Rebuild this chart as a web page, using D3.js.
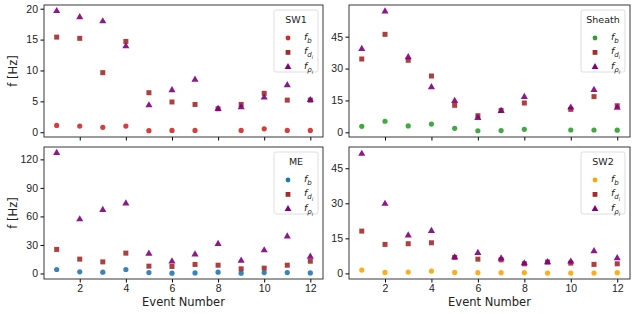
<!DOCTYPE html>
<html>
<head>
<meta charset="utf-8">
<script src="https://cdn.jsdelivr.net/npm/d3@7"></script>
<style>
  body { margin: 0; background: #fff; }
  svg { font-family: "DejaVu Sans", sans-serif; }
</style>
</head>
<body>
<div id="chart"></div>
<script>
// event numbers on the x axis
const events = [1, 2, 3, 4, 5, 6, 7, 8, 9, 10, 11, 12];
const xTicks = [2, 4, 6, 8, 10, 12];

// SW1
const sw1_fb = [1.1, 1.0, 0.8, 1.0, 0.25, 0.3, 0.3, null, 0.3, 0.55, 0.3, 0.3];
const sw1_fd = [15.4, 15.2, 9.65, 14.7, 6.4, 4.9, 4.5, 3.8, 4.5, 6.3, 5.2, 5.2];
const sw1_fp = [19.7, 18.7, 18.05, 14.0, 4.45, 6.9, 8.6, 3.85, 4.15, 5.7, 7.7, 5.3];
// Sheath
const sh_fb = [2.8, 5.2, 3.0, 3.9, 1.9, 0.75, 0.8, 1.4, null, 1.1, 1.1, 1.0];
const sh_fd = [34.5, 46.1, 33.9, 26.5, 12.7, 7.8, 10.3, 13.8, null, 10.8, 16.8, 12.5];
const sh_fp = [39.5, 57.1, 35.6, 21.5, 15.0, 7.05, 10.3, 16.9, null, 11.9, 20.2, 11.8];
// ME
const me_fb = [4.2, 1.7, 1.4, 4.2, 1.0, 0.3, 0.6, 1.4, 0.3, 1.0, 1.0, 0.6];
const me_fd = [25.3, 15.1, 12.2, 21.4, 7.7, 7.4, 9.5, 8.7, 4.9, 5.6, 8.7, 12.9];
const me_fp = [127.4, 57.5, 67.3, 74.3, 21.4, 13.3, 20.6, 31.6, 14.0, 24.9, 39.6, 18.2];
// SW2
const sw2_fb = [1.4, 0.4, 0.55, 1.0, 0.4, 0.3, 0.3, 0.3, 0.15, 0.15, 0.15, 0.3];
const sw2_fd = [18.1, 12.4, 12.7, 13.1, 6.85, 6.1, 5.8, 4.1, 4.85, 4.4, 3.85, 4.1];
const sw2_fp = [51.4, 30.0, 16.5, 18.4, 7.1, 9.0, 6.6, 4.55, 5.0, 5.3, 9.7, 6.7];

const panels = [
  { name: "SW1", fb: sw1_fb, fd: sw1_fd, fp: sw1_fp, color: "#d62728",
    x0: 44, x1: 323, y0: 5, y1: 137, yDomain: [-0.77, 20.6], yTicks: [0, 5, 10, 15, 20], bottom: false, ylabel: true },
  { name: "Sheath", fb: sh_fb, fd: sh_fd, fp: sh_fp, color: "#2ca02c",
    x0: 349, x1: 630, y0: 5, y1: 137, yDomain: [-2.2, 59.9], yTicks: [0, 15, 30, 45], bottom: false, ylabel: false },
  { name: "ME", fb: me_fb, fd: me_fd, fp: me_fp, color: "#1f77b4",
    x0: 44, x1: 323, y0: 147, y1: 279, yDomain: [-5.8, 133], yTicks: [0, 30, 60, 90, 120], bottom: true, ylabel: true },
  { name: "SW2", fb: sw2_fb, fd: sw2_fd, fp: sw2_fp, color: "#ffa500",
    x0: 349, x1: 630, y0: 147, y1: 279, yDomain: [-2.4, 54.1], yTicks: [0, 15, 30, 45], bottom: true, ylabel: false }
];

const fdColor = "#a52a2a";
const fpColor = "#800080";

const svg = d3.select("#chart").append("svg")
  .attr("width", 634)
  .attr("height", 314);

const triangle = d3.symbol().type(d3.symbolTriangle).size(22);

// draws f with subscript (and optional sub-subscript)
function fLabel(sel, sub, subsub) {
  sel.append("tspan").attr("font-style", "italic").text("f");
  sel.append("tspan").attr("font-style", "italic").attr("font-size", 7).attr("dy", 3).text(sub);
  if (subsub) {
    sel.append("tspan").attr("font-style", "italic").attr("font-size", 5).attr("dy", 2).text(subsub);
  }
}

panels.forEach(p => {
  const x = d3.scaleLinear().domain([0.45, 12.55]).range([p.x0, p.x1]);
  const y = d3.scaleLinear().domain(p.yDomain).range([p.y1, p.y0]);
  const g = svg.append("g");

  // x axis
  const xAxis = g.append("g")
    .attr("transform", `translate(0,${p.y1})`)
    .call(d3.axisBottom(x).tickValues(xTicks).tickSize(3.5).tickPadding(2)
      .tickFormat(p.bottom ? d3.format("d") : () => ""));
  xAxis.selectAll("text").attr("font-size", 10.5).attr("fill", "#222");

  // y axis
  const yAxis = g.append("g")
    .attr("transform", `translate(${p.x0},0)`)
    .call(d3.axisLeft(y).tickValues(p.yTicks).tickSize(3.5).tickPadding(2.5));
  yAxis.selectAll("text").attr("font-size", 10.5).attr("fill", "#222");
  g.selectAll(".domain").remove();

  // frame
  g.append("rect")
    .attr("x", p.x0).attr("y", p.y0)
    .attr("width", p.x1 - p.x0).attr("height", p.y1 - p.y0)
    .attr("fill", "none").attr("stroke", "#222").attr("stroke-width", 0.9);

  const pts = (arr) => events.map((e, i) => ({ e, v: arr[i] })).filter(d => d.v !== null);

  // f_b circles
  g.selectAll(".fb").data(pts(p.fb)).enter().append("circle")
    .attr("cx", d => x(d.e)).attr("cy", d => y(d.v)).attr("r", 2.6)
    .attr("fill", p.color).attr("opacity", 0.9);
  // f_d squares
  g.selectAll(".fd").data(pts(p.fd)).enter().append("rect")
    .attr("x", d => x(d.e) - 2.5).attr("y", d => y(d.v) - 2.5)
    .attr("width", 5).attr("height", 5)
    .attr("fill", fdColor).attr("opacity", 0.9);
  // f_p triangles
  g.selectAll(".fp").data(pts(p.fp)).enter().append("path")
    .attr("d", triangle)
    .attr("transform", d => `translate(${x(d.e)},${y(d.v) + 0.5})`)
    .attr("fill", fpColor).attr("opacity", 0.9);

  // legend
  const lx = p.x1 - 49, ly = p.y0 + 5;
  const leg = g.append("g").attr("transform", `translate(${lx},${ly})`);
  leg.append("rect")
    .attr("width", 44).attr("height", 62).attr("rx", 2)
    .attr("fill", "#fff").attr("fill-opacity", 0.8)
    .attr("stroke", "#d5d5d5").attr("stroke-width", 0.8);
  leg.append("text").attr("x", 22).attr("y", 13)
    .attr("text-anchor", "middle").attr("font-size", 9.5).attr("fill", "#222").text(p.name);
  leg.append("circle").attr("cx", 14).attr("cy", 28).attr("r", 2.4).attr("fill", p.color);
  leg.append("rect").attr("x", 11.6).attr("y", 40).attr("width", 4.8).attr("height", 4.8).attr("fill", fdColor);
  leg.append("path").attr("d", d3.symbol().type(d3.symbolTriangle).size(20))
    .attr("transform", "translate(14,57)").attr("fill", fpColor);
  leg.append("text").attr("x", 30).attr("y", 30).attr("font-size", 9.5).attr("fill", "#222")
    .call(fLabel, "b");
  leg.append("text").attr("x", 30).attr("y", 44).attr("font-size", 9.5).attr("fill", "#222")
    .call(fLabel, "d", "i");
  leg.append("text").attr("x", 30).attr("y", 59).attr("font-size", 9.5).attr("fill", "#222")
    .call(fLabel, "ρ", "i");

  if (p.ylabel) {
    svg.append("text")
      .attr("transform", `translate(17,${(p.y0 + p.y1) / 2}) rotate(-90)`)
      .attr("text-anchor", "middle").attr("font-size", 11.5).attr("fill", "#222")
      .text("f [Hz]");
  }
  if (p.bottom) {
    svg.append("text")
      .attr("x", (p.x0 + p.x1) / 2).attr("y", 306)
      .attr("text-anchor", "middle").attr("font-size", 11.5).attr("fill", "#222")
      .text("Event Number");
  }
});
</script>
</body>
</html>
